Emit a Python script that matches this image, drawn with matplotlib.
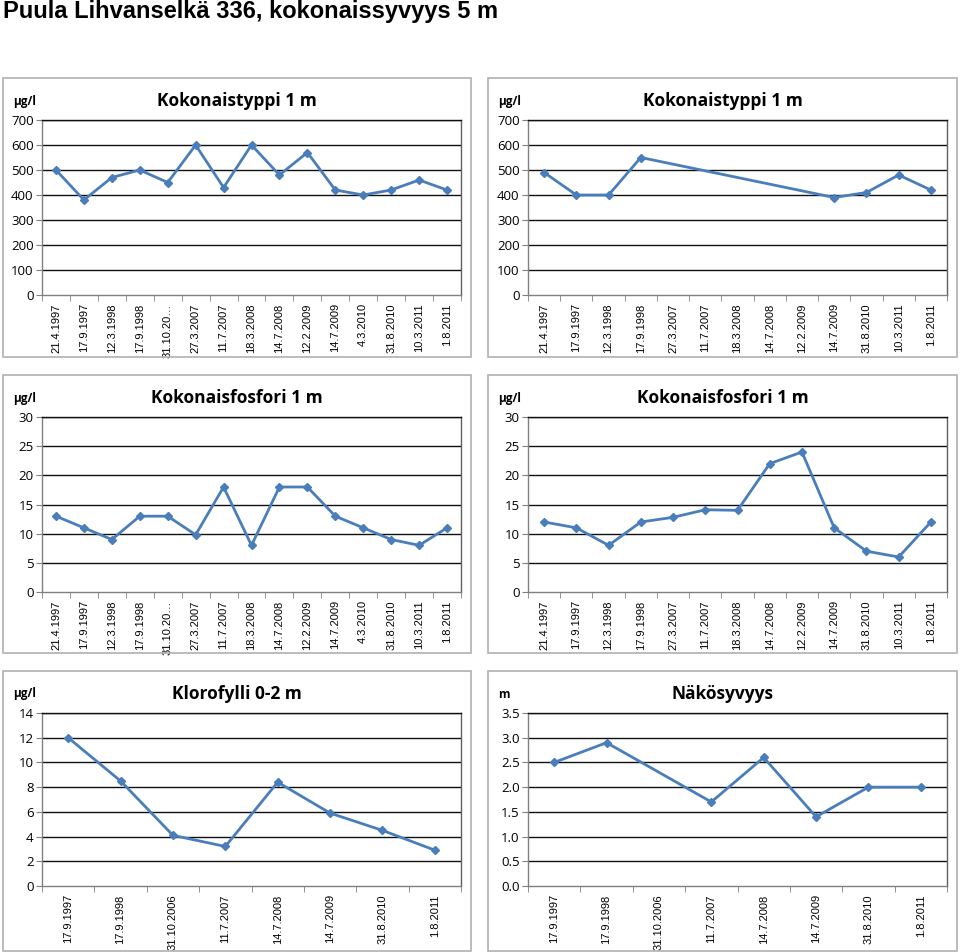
import numpy as np
import matplotlib
matplotlib.use("Agg")
import matplotlib.pyplot as plt
from matplotlib.patches import Rectangle

# Data
dates_a = ["21.4.1997", "17.9.1997", "12.3.1998", "17.9.1998", "31.10.20…", "27.3.2007",
           "11.7.2007", "18.3.2008", "14.7.2008", "12.2.2009", "14.7.2009", "4.3.2010",
           "31.8.2010", "10.3.2011", "1.8.2011"]
dates_b = ["21.4.1997", "17.9.1997", "12.3.1998", "17.9.1998", "27.3.2007", "11.7.2007",
           "18.3.2008", "14.7.2008", "12.2.2009", "14.7.2009", "31.8.2010", "10.3.2011",
           "1.8.2011"]
dates_c = ["17.9.1997", "17.9.1998", "31.10.2006", "11.7.2007", "14.7.2008", "14.7.2009",
           "31.8.2010", "1.8.2011"]

typpi_a = [500, 380, 470, 500, 450, 600, 430, 600, 480, 570, 420, 400, 420, 460, 420]
typpi_b = [490, 400, 400, 550, np.nan, np.nan, np.nan, np.nan, np.nan, 390, 410, 480, 420]
fosfori_a = [13, 11, 9, 13, 13, 9.8, 18, 8, 18, 18, 13, 11, 9, 8, 11]
fosfori_b = [12, 11, 8, 12, 12.8, 14.1, 14, 22, 24, 11, 7, 6, 12]
klorofylli = [12, 8.5, 4.1, 3.2, 8.4, 5.9, 4.5, 2.9]
nakosyvyys = [2.5, 2.9, np.nan, 1.7, 2.6, 1.4, 2.0, 2.0]

W, H = 960, 952
fig = plt.figure(figsize=(W / 100, H / 100), dpi=100)
fig.patch.set_facecolor("white")

fig.text(3 / W, 1 - 0 / H, "Puula Lihvanselkä 336, kokonaissyvyys 5 m",
         family="Liberation Sans", weight="bold", fontsize=17, ha="left", va="top")

cols = [(3, 471, 42, 461), (488, 957, 528, 947)]
rows = [(78, 357, 120, 295), (375, 653, 417, 592), (671, 951, 713, 886)]

panels = [
    (0, 0, dates_a, typpi_a, "Kokonaistyppi 1 m", "µg/l", 700, 100, "%d"),
    (0, 1, dates_b, typpi_b, "Kokonaistyppi 1 m", "µg/l", 700, 100, "%d"),
    (1, 0, dates_a, fosfori_a, "Kokonaisfosfori 1 m", "µg/l", 30, 5, "%d"),
    (1, 1, dates_b, fosfori_b, "Kokonaisfosfori 1 m", "µg/l", 30, 5, "%d"),
    (2, 0, dates_c, klorofylli, "Klorofylli 0-2 m", "µg/l", 14, 2, "%d"),
    (2, 1, dates_c, nakosyvyys, "Näkösyvyys", "m", 3.5, 0.5, "%.1f"),
]

for r, c, cats, vals, title, unit, ymax, step, fmt in panels:
    bx0, bx1, l, rr = cols[c]
    by0, by1, t, b = rows[r]
    # panel frame
    fig.patches.append(Rectangle((bx0 / W, 1 - by1 / H), (bx1 - bx0) / W, (by1 - by0) / H,
                                 transform=fig.transFigure, fill=False,
                                 edgecolor="#b0b0b0", lw=1.2))
    fig.text((bx0 + bx1) / 2 / W, 1 - (by0 + 23) / H, title, family="Open Sans",
             weight="bold", fontsize=12.5, ha="center", va="center")
    fig.text((bx0 + 10) / W, 1 - (by0 + 23) / H, unit, family="Open Sans",
             weight="bold", fontsize=8.5, ha="left", va="center")

    ax = fig.add_axes([l / W, 1 - b / H, (rr - l) / W, (b - t) / H])
    n = len(cats)
    x = np.arange(n)
    v = np.array(vals, dtype=float)
    ok = ~np.isnan(v)
    ax.plot(x[ok], v[ok], color="#4A7EBB", lw=2, marker="D", markersize=4,
            markeredgecolor="#4A7EBB", zorder=3)
    ax.set_xlim(-0.5, n - 0.5)
    ax.set_ylim(0, ymax)
    yt = np.arange(0, ymax + step / 2, step)
    ax.set_yticks(yt)
    ax.set_yticklabels([fmt % y for y in yt], family="Open Sans", fontsize=9.5)
    for y in yt[1:]:
        ax.axhline(y, color="#101010", lw=1.0, zorder=1)
    ax.set_xticks(x)
    ax.set_xticklabels(cats, rotation=90, family="Liberation Sans", fontsize=8)
    ax.set_xticks(np.arange(n + 1) - 0.5, minor=True)
    ax.tick_params(axis="x", which="major", length=0, pad=6)
    ax.tick_params(axis="x", which="minor", length=4, color="#808080", direction="out")
    ax.tick_params(axis="y", length=4, color="#808080", direction="out", pad=2)
    for s in ["left", "bottom"]:
        ax.spines[s].set_color("#808080")
        ax.spines[s].set_linewidth(1.0)
    ax.spines["right"].set_color("#606060")
    ax.spines["top"].set_color("#101010")
    ax.spines["right"].set_linewidth(1.0)
    ax.spines["top"].set_linewidth(1.0)

fig.savefig("out.png", dpi=100, facecolor="white")
